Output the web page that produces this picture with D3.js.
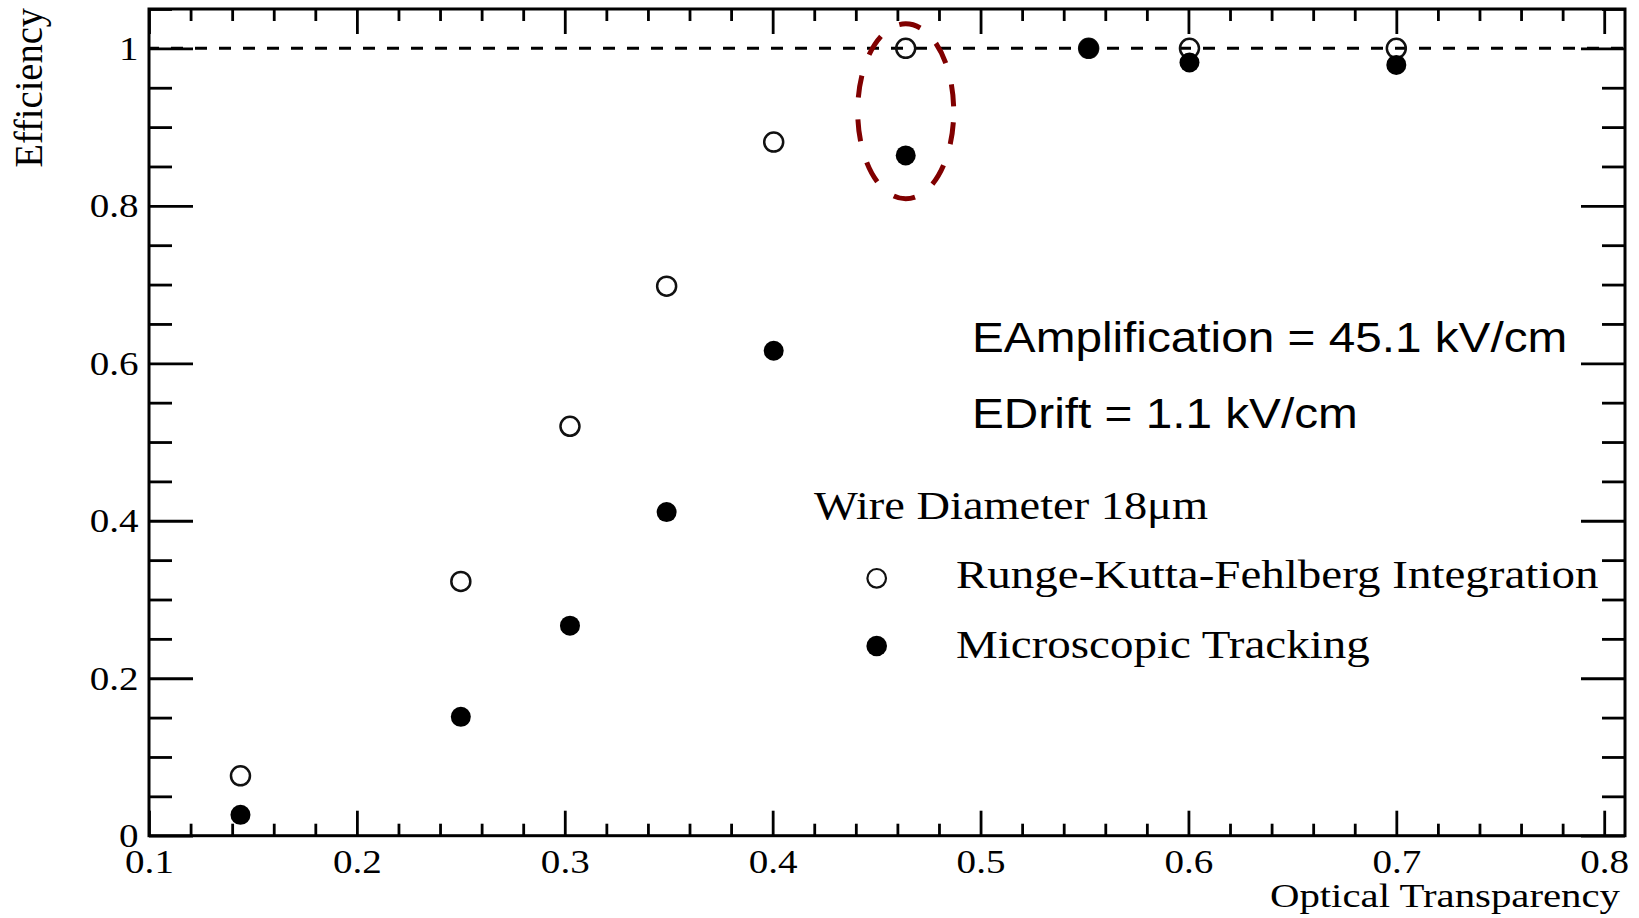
<!DOCTYPE html>
<html>
<head>
<meta charset="utf-8">
<script src="https://cdn.jsdelivr.net/npm/d3@7"></script>
<style>
    html, body { margin: 0; padding: 0; background: #fff; }
    svg { display: block; }
</style>
</head>
<body>
<div id="canvas"></div>
<script>
"use strict"

let svgWidth = 1639;
let svgHeight = 918;

/* Frame of the plot (pixels) */
let plotLeft = 149;
let plotRight = 1625;
let plotTop = 9;
let plotBottom = 835.7;

/* Data: optical transparency vs efficiency */
let transparency = [0.144, 0.250, 0.3025, 0.349, 0.4005, 0.464, 0.552, 0.6005, 0.700];
let rkfEfficiency = [0.076, 0.323, 0.520, 0.698, 0.881, 1.0, 1.0, 1.0, 1.0];
let microEfficiency = [0.0265, 0.151, 0.2668, 0.411, 0.616, 0.864, 1.0, 0.982, 0.979];

/* Tick labels */
let xTicks = [0.1, 0.2, 0.3, 0.4, 0.5, 0.6, 0.7, 0.8];
let yTicks = [0, 0.2, 0.4, 0.6, 0.8, 1];

/* Legend */
let legendTitle = "Wire Diameter 18\u03bcm";
let legendLabels = ["Runge-Kutta-Fehlberg Integration", "Microscopic Tracking"];
let fieldLabels = ["EAmplification = 45.1 kV/cm", "EDrift = 1.1 kV/cm"];

let serif = "'Liberation Serif', 'Times New Roman', serif";
let sans = "'Liberation Sans', Arial, sans-serif";

let svg = d3.select("#canvas")
    .append("svg")
    .attr("width", svgWidth)
    .attr("height", svgHeight);

/* Scales */
let xScale = d3.scaleLinear()
    .domain([0.1, 0.81])
    .range([plotLeft, plotRight]);

let yScale = d3.scaleLinear()
    .domain([0, 1.05])
    .range([plotBottom, plotTop]); // flipped for SVG

let xMinor = d3.range(5, 41).filter(i => i % 5 !== 0).map(i => i * 0.02);
let yMinor = d3.range(0, 22).filter(i => i % 4 !== 0).map(i => i * 0.05);

function styleAxis(g) {
    g.select(".domain").remove();
    g.selectAll(".tick line")
        .attr("stroke", "#000")
        .attr("stroke-width", 2.8);
    g.selectAll(".tick text")
        .attr("fill", "#000")
        .style("font-family", serif)
        .style("font-size", "34px")
        .attr("transform", "scale(1.15,1)");
}

/* Bottom axis with labels */
svg.append("g")
    .attr("transform", "translate(0," + plotBottom + ")")
    .call(d3.axisBottom(xScale).tickValues(xTicks).tickSize(-25).tickPadding(13)
        .tickFormat(d3.format("~g")))
    .call(styleAxis);

svg.append("g")
    .attr("transform", "translate(0," + plotBottom + ")")
    .call(d3.axisBottom(xScale).tickValues(xMinor).tickSize(-12).tickFormat(""))
    .call(styleAxis);

/* Top axis, ticks only */
svg.append("g")
    .attr("transform", "translate(0," + plotTop + ")")
    .call(d3.axisTop(xScale).tickValues(xTicks).tickSize(-25).tickFormat(""))
    .call(styleAxis);

svg.append("g")
    .attr("transform", "translate(0," + plotTop + ")")
    .call(d3.axisTop(xScale).tickValues(xMinor).tickSize(-12).tickFormat(""))
    .call(styleAxis);

/* Left axis with labels */
svg.append("g")
    .attr("transform", "translate(" + plotLeft + ",0)")
    .call(d3.axisLeft(yScale).tickValues(yTicks).tickSize(-44).tickPadding(9)
        .tickFormat(d3.format("~g")))
    .call(styleAxis);

svg.append("g")
    .attr("transform", "translate(" + plotLeft + ",0)")
    .call(d3.axisLeft(yScale).tickValues(yMinor).tickSize(-23).tickFormat(""))
    .call(styleAxis);

/* Right axis, ticks only */
svg.append("g")
    .attr("transform", "translate(" + plotRight + ",0)")
    .call(d3.axisRight(yScale).tickValues(yTicks).tickSize(-44).tickFormat(""))
    .call(styleAxis);

svg.append("g")
    .attr("transform", "translate(" + plotRight + ",0)")
    .call(d3.axisRight(yScale).tickValues(yMinor).tickSize(-23).tickFormat(""))
    .call(styleAxis);

/* Frame */
svg.append("rect")
    .attr("x", plotLeft)
    .attr("y", plotTop)
    .attr("width", plotRight - plotLeft)
    .attr("height", plotBottom - plotTop)
    .attr("fill", "none")
    .attr("stroke", "#000")
    .attr("stroke-width", 3);

/* Dashed line at efficiency = 1 */
svg.append("line")
    .attr("x1", xScale(0.1))
    .attr("x2", xScale(0.81))
    .attr("y1", yScale(1))
    .attr("y2", yScale(1))
    .attr("stroke", "#000")
    .attr("stroke-width", 3)
    .attr("stroke-dasharray", "12,12")
    .attr("stroke-dashoffset", -46);

/* Points: open first, filled on top */
svg.selectAll("circle.rkf")
    .data(transparency)
    .join("circle")
    .attr("class", "rkf")
    .attr("cx", d => xScale(d))
    .attr("cy", (d, i) => yScale(rkfEfficiency[i]))
    .attr("r", 9.5)
    .attr("fill", "none")
    .attr("stroke", "#111")
    .attr("stroke-width", 2.5);

svg.selectAll("circle.micro")
    .data(transparency)
    .join("circle")
    .attr("class", "micro")
    .attr("cx", d => xScale(d))
    .attr("cy", (d, i) => yScale(microEfficiency[i]))
    .attr("r", 10)
    .attr("fill", "#000");

/* Highlight ellipse round the 0.464 points */
svg.append("ellipse")
    .attr("cx", xScale(0.464))
    .attr("cy", yScale(0.92))
    .attr("rx", 48)
    .attr("ry", 87.5)
    .attr("fill", "none")
    .attr("stroke", "#800000")
    .attr("stroke-width", 5)
    .attr("stroke-dasharray", "22,22")
    .attr("stroke-dashoffset", 33);

/* Axis titles */
svg.append("text")
    .attr("transform", "translate(1620,907) scale(1.2,1)")
    .attr("text-anchor", "end")
    .style("font-family", serif)
    .style("font-size", "34px")
    .text("Optical Transparency");

svg.append("text")
    .attr("transform", "translate(42,8) rotate(-90) scale(1,1.04)")
    .attr("text-anchor", "end")
    .style("font-family", serif)
    .style("font-size", "38.5px")
    .text("Efficiency");

/* Field annotations */
svg.selectAll("text.field")
    .data(fieldLabels)
    .join("text")
    .attr("class", "field")
    .attr("transform", (d, i) => "translate(972," + (352 + i * 76) + ") scale(1.11,1)")
    .style("font-family", sans)
    .style("font-size", "43px")
    .text(d => d);

/* Legend */
svg.append("text")
    .attr("transform", "translate(814,519) scale(1.19,1)")
    .style("font-family", serif)
    .style("font-size", "39px")
    .text(legendTitle);

svg.selectAll("text.legend")
    .data(legendLabels)
    .join("text")
    .attr("class", "legend")
    .attr("transform", (d, i) => "translate(956," + (588.3 + i * 70) + ") scale(1.205,1)")
    .style("font-family", serif)
    .style("font-size", "39px")
    .text(d => d);

svg.append("circle")
    .attr("cx", 876.7)
    .attr("cy", 578.3)
    .attr("r", 9.3)
    .attr("fill", "none")
    .attr("stroke", "#111")
    .attr("stroke-width", 2.2);

svg.append("circle")
    .attr("cx", 876.7)
    .attr("cy", 646)
    .attr("r", 10.3)
    .attr("fill", "#000");
</script>
</body>
</html>
